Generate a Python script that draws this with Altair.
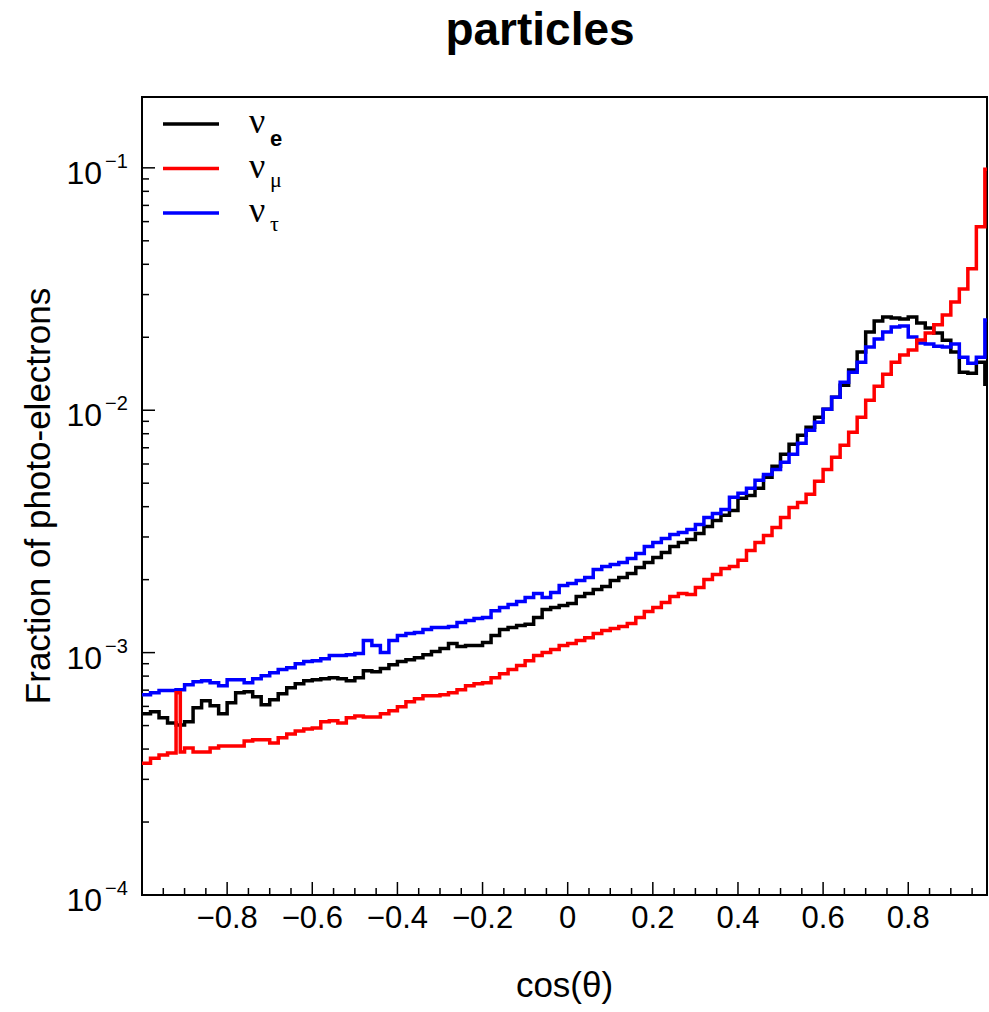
import altair as alt
import numpy as np
import pandas as pd

# ---------------- data ----------------
bin_edges = [round(-1.0 + 0.02 * i, 2) for i in range(101)]
# the nu_mu histogram has one narrow spike bin near cos = -0.92
mu_edges = bin_edges[:5] + [-0.91] + bin_edges[5:]

nu_e = [
    5.59e-4, 5.70e-4, 5.38e-4, 5.13e-4, 5.03e-4, 5.18e-4, 5.92e-4, 6.33e-4, 6.04e-4, 5.59e-4,
    6.21e-4, 6.83e-4, 6.90e-4, 6.57e-4, 6.09e-4, 6.39e-4, 6.76e-4, 7.16e-4, 7.44e-4, 7.66e-4,
    7.73e-4, 7.80e-4, 7.88e-4, 7.80e-4, 7.66e-4, 7.88e-4, 8.42e-4, 8.34e-4, 8.59e-4, 8.92e-4,
    9.18e-4, 9.35e-4, 9.53e-4, 9.81e-4, 1.010e-3, 1.039e-3, 1.090e-3, 1.059e-3, 1.069e-3, 1.069e-3,
    1.100e-3, 1.176e-3, 1.245e-3, 1.269e-3, 1.295e-3, 1.308e-3, 1.395e-3, 1.505e-3, 1.534e-3, 1.564e-3,
    1.594e-3, 1.704e-3, 1.753e-3, 1.821e-3, 1.874e-3, 1.985e-3, 2.041e-3, 2.120e-3, 2.245e-3, 2.355e-3,
    2.469e-3, 2.590e-3, 2.742e-3, 2.848e-3, 2.931e-3, 3.103e-3, 3.317e-3, 3.512e-3, 3.683e-3, 3.862e-3,
    4.33e-3, 4.45e-3, 4.76e-3, 5.29e-3, 5.87e-3, 6.58e-3, 7.24e-3, 7.88e-3, 8.51e-3, 9.36e-3,
    1.010e-2, 1.132e-2, 1.269e-2, 1.464e-2, 1.737e-2, 2.101e-2, 2.334e-2, 2.424e-2, 2.400e-2, 2.377e-2,
    2.424e-2, 2.289e-2, 2.182e-2, 2.081e-2, 1.945e-2, 1.737e-2, 1.436e-2, 1.422e-2, 1.579e-2, 1.281e-2,
]

nu_tau = [
    6.70e-4, 6.83e-4, 6.97e-4, 6.97e-4, 7.03e-4, 7.37e-4, 7.58e-4, 7.66e-4, 7.51e-4, 7.30e-4,
    7.73e-4, 7.73e-4, 7.51e-4, 7.80e-4, 8.03e-4, 8.26e-4, 8.51e-4, 8.67e-4, 9.00e-4, 9.18e-4,
    9.26e-4, 9.44e-4, 9.72e-4, 9.72e-4, 9.81e-4, 9.91e-4, 1.121e-3, 1.069e-3, 1.000e-3, 1.121e-3,
    1.176e-3, 1.198e-3, 1.210e-3, 1.245e-3, 1.269e-3, 1.269e-3, 1.282e-3, 1.330e-3, 1.356e-3, 1.382e-3,
    1.395e-3, 1.490e-3, 1.534e-3, 1.579e-3, 1.626e-3, 1.688e-3, 1.753e-3, 1.688e-3, 1.770e-3, 1.892e-3,
    1.928e-3, 1.985e-3, 2.041e-3, 2.203e-3, 2.266e-3, 2.310e-3, 2.355e-3, 2.446e-3, 2.565e-3, 2.742e-3,
    2.848e-3, 2.959e-3, 3.073e-3, 3.132e-3, 3.223e-3, 3.380e-3, 3.613e-3, 3.753e-3, 3.898e-3, 4.370e-3,
    4.54e-3, 4.76e-3, 5.14e-3, 5.43e-3, 5.70e-3, 6.10e-3, 6.58e-3, 7.30e-3, 8.27e-3, 8.92e-3,
    1.010e-2, 1.132e-2, 1.305e-2, 1.436e-2, 1.579e-2, 1.822e-2, 1.965e-2, 2.101e-2, 2.203e-2, 2.225e-2,
    2.003e-2, 1.892e-2, 1.874e-2, 1.838e-2, 1.822e-2, 1.874e-2, 1.656e-2, 1.564e-2, 1.656e-2, 2.357e-2,
]

nu_mu = [
    3.50e-4, 3.67e-4, 3.78e-4, 3.85e-4, 6.83e-4, 3.89e-4, 4.04e-4, 3.89e-4, 3.89e-4, 4.04e-4, 4.12e-4,
    4.12e-4, 4.12e-4, 4.32e-4, 4.37e-4, 4.37e-4, 4.24e-4, 4.45e-4, 4.62e-4, 4.75e-4, 4.84e-4,
    4.89e-4, 5.18e-4, 5.24e-4, 5.13e-4, 5.38e-4, 5.48e-4, 5.43e-4, 5.43e-4, 5.59e-4, 5.75e-4,
    5.98e-4, 6.27e-4, 6.45e-4, 6.64e-4, 6.64e-4, 6.70e-4, 6.83e-4, 7.03e-4, 7.30e-4, 7.44e-4,
    7.51e-4, 7.88e-4, 8.18e-4, 8.51e-4, 8.84e-4, 9.26e-4, 9.72e-4, 1.000e-3, 1.029e-3, 1.069e-3,
    1.090e-3, 1.121e-3, 1.153e-3, 1.198e-3, 1.233e-3, 1.257e-3, 1.282e-3, 1.318e-3, 1.395e-3, 1.478e-3,
    1.534e-3, 1.610e-3, 1.704e-3, 1.753e-3, 1.736e-3, 1.856e-3, 2.003e-3, 2.100e-3, 2.224e-3, 2.266e-3,
    2.402e-3, 2.641e-3, 2.848e-3, 3.045e-3, 3.285e-3, 3.613e-3, 3.973e-3, 4.167e-3, 4.50e-3, 5.09e-3,
    5.70e-3, 6.39e-3, 7.17e-3, 8.11e-3, 9.36e-3, 1.100e-2, 1.257e-2, 1.409e-2, 1.579e-2, 1.689e-2,
    1.771e-2, 1.948e-2, 2.081e-2, 2.250e-2, 2.471e-2, 2.796e-2, 3.160e-2, 3.83e-2, 5.71e-2, 9.86e-2,
]

x_major_ticks = [-0.8, -0.6, -0.4, -0.2, 0.0, 0.2, 0.4, 0.6, 0.8]
x_tick_labels = ["\u22120.8", "\u22120.6", "\u22120.4", "\u22120.2", "0", "0.2", "0.4", "0.6", "0.8"]
x_minor_ticks = [round(-0.95 + 0.05 * i, 2) for i in range(39)]
x_minor_ticks = [v for v in x_minor_ticks if all(abs(v - m) > 1e-6 for m in x_major_ticks)]
y_major_ticks = [1e-4, 1e-3, 1e-2, 1e-1]
y_minor_ticks = [k * 10.0 ** n for n in (-4, -3, -2, -1) for k in range(2, 10) if k * 10.0 ** n < 0.19]
y_label_exps = ["\u22124", "\u22123", "\u22122", "\u22121"]

# drawing order: black, blue, red on top
series_edges = [bin_edges, bin_edges, mu_edges]
series_values = [nu_e, nu_tau, nu_mu]
series_colors = ["#000000", "#0000ff", "#ff0000"]

# ---------------- chart ----------------
W, H = 845, 798
FONT = "Liberation Sans"
x_scale = alt.Scale(domain=[-1.0, 0.985], nice=False, zero=False)
y_scale = alt.Scale(type="log", domain=[1e-4, 0.196], nice=False)


def step_df(edges, vals):
    xs = list(edges)
    ys = list(vals) + [vals[-1]]
    return pd.DataFrame({"x": xs, "y": ys})


layers = []
for edges, vals, col in zip(series_edges, series_values, series_colors):
    layers.append(
        alt.Chart(step_df(edges, vals))
        .mark_line(interpolate="step-after", color=col, strokeWidth=3.5, clip=True)
        .encode(x=alt.X("x:Q", scale=x_scale, axis=None),
                y=alt.Y("y:Q", scale=y_scale, axis=None))
    )

# inward ticks
xt_major = alt.Chart(pd.DataFrame({"x": x_major_ticks})).mark_rule(color="black", strokeWidth=1.5).encode(
    x=alt.X("x:Q", scale=x_scale, axis=None), y=alt.value(H), y2=alt.value(H - 13))
xt_minor = alt.Chart(pd.DataFrame({"x": x_minor_ticks})).mark_rule(color="black", strokeWidth=1.5).encode(
    x=alt.X("x:Q", scale=x_scale, axis=None), y=alt.value(H), y2=alt.value(H - 7))
yt_major = alt.Chart(pd.DataFrame({"y": y_major_ticks})).mark_rule(color="black", strokeWidth=1.5).encode(
    y=alt.Y("y:Q", scale=y_scale, axis=None), x=alt.value(0), x2=alt.value(13))
yt_minor = alt.Chart(pd.DataFrame({"y": y_minor_ticks})).mark_rule(color="black", strokeWidth=1.5).encode(
    y=alt.Y("y:Q", scale=y_scale, axis=None), x=alt.value(0), x2=alt.value(7))

# tick labels
xlab = alt.Chart(pd.DataFrame({"x": x_major_ticks, "t": x_tick_labels})).mark_text(
    font=FONT, fontSize=31, align="center", baseline="alphabetic", color="black").encode(
    x=alt.X("x:Q", scale=x_scale, axis=None), y=alt.value(H + 33), text="t:N")

ylab_df = pd.DataFrame({"y": y_major_ticks, "exp": y_label_exps})
ylab_base = alt.Chart(ylab_df).mark_text(text="10", font=FONT, fontSize=32, align="right",
                                         baseline="alphabetic", dy=16, color="black").encode(
    y=alt.Y("y:Q", scale=y_scale, axis=None), x=alt.value(-40))
ylab_exp = alt.Chart(ylab_df).mark_text(font=FONT, fontSize=20, align="left",
                                        baseline="alphabetic", dy=0, color="black").encode(
    y=alt.Y("y:Q", scale=y_scale, axis=None), x=alt.value(-37), text="exp:N")

one = pd.DataFrame({"a": [0]})

# axis titles
xtitle = alt.Chart(one).mark_text(text="cos(\u03b8)", font=FONT, fontSize=35, align="center",
                                  baseline="alphabetic", color="black").encode(
    x=alt.value(W / 2), y=alt.value(H + 102))
ytitle = alt.Chart(one).mark_text(text="Fraction of photo-electrons", font=FONT, fontSize=35,
                                  align="center", baseline="alphabetic", angle=270,
                                  color="black").encode(
    x=alt.value(-92), y=alt.value(H / 2))

# legend (top-left, inside the frame)
legend_layers = []
subs = ["e", "\u03bc", "\u03c4"]
sub_font = [FONT, "Liberation Serif", "Liberation Serif"]
sub_off = [13, 9, 9]
legend_colors = ["#000000", "#ff0000", "#0000ff"]
for k in range(3):
    ly = 27 + 44.5 * k
    legend_layers.append(alt.Chart(one).mark_rule(color=legend_colors[k], strokeWidth=3.5).encode(
        x=alt.value(21), x2=alt.value(77), y=alt.value(ly)))
    legend_layers.append(alt.Chart(one).mark_text(text="\u03bd", font="Liberation Serif", fontSize=36,
                                                  align="left", baseline="alphabetic", color="black").encode(
        x=alt.value(107), y=alt.value(ly + 9)))
    legend_layers.append(alt.Chart(one).mark_text(text=subs[k], font=sub_font[k], fontSize=22,
                                                  fontWeight="bold" if k == 0 else "normal",
                                                  align="left", baseline="alphabetic", color="black").encode(
        x=alt.value(128), y=alt.value(ly + 9 + sub_off[k])))

title = alt.Chart(one).mark_text(text="particles", font=FONT, fontSize=46, fontWeight="bold",
                                 align="center", baseline="alphabetic", color="black").encode(
    x=alt.value(398), y=alt.value(-52))

chart = alt.layer(*layers, xt_major, xt_minor, yt_major, yt_minor, xlab, ylab_base, ylab_exp,
                  xtitle, ytitle, *legend_layers, title).properties(
    width=W, height=H,
    padding={"left": 142, "top": 97, "right": 2, "bottom": 117},
    autosize=alt.AutoSizeParams(type="none"),
    background="white",
).configure_view(stroke="black", strokeWidth=2)

chart.save("out.html", embed_options={"renderer": "svg", "actions": False})
